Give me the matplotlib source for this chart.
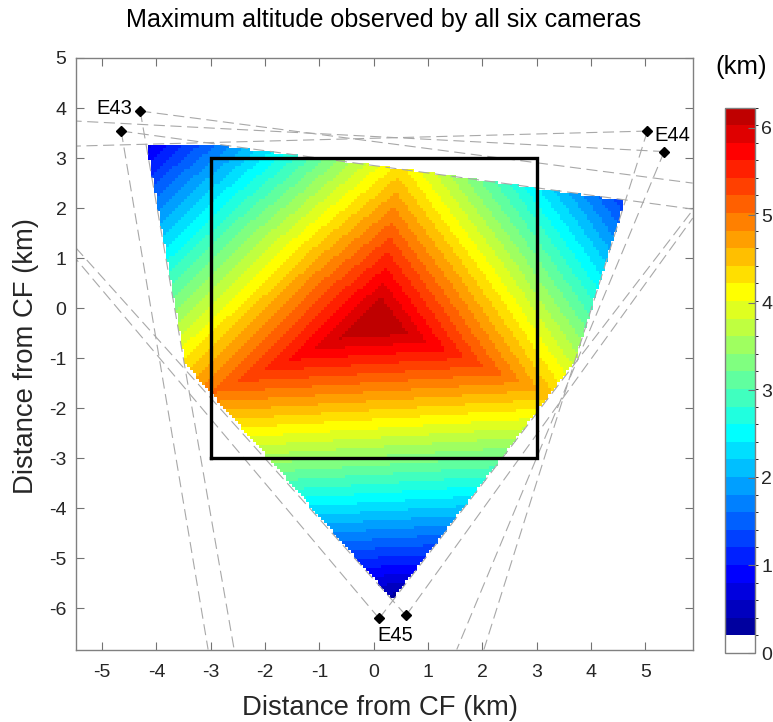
import numpy as np
import matplotlib
matplotlib.use('Agg')
import matplotlib.pyplot as plt
import matplotlib.tri as mtri
from matplotlib.colors import ListedColormap, BoundaryNorm

plt.rcParams['font.family'] = ['Liberation Sans', 'DejaVu Sans']
plt.rcParams['axes.unicode_minus'] = False

W, H = 773, 722

# altitude surface: ridge top + outline of the covered area
peak_x, peak_y, peak_z = 0.09, -0.26, 6.35
edge_x = [0.47, -3.05, -4.17, -3.47, -3.00, 0.35, 3.24, 3.71, 4.63]
edge_y = [2.80, 3.29, 3.25, -1.10, -1.69, -5.82, -1.73, -1.07, 2.15]
edge_z = [4.31, 1.50, 0.75, 4.28, 5.02, 0.27, 4.51, 3.75, 1.25]

# cameras
cam_x = [-4.30, -4.65, 5.04, 5.35, 0.10, 0.595]
cam_y = [3.94, 3.54, 3.54, 3.13, -6.20, -6.14]
cam_names = ['E43', 'E44', 'E45']
name_x = [-4.77, 5.50, 0.40]
name_y = [3.99, 3.46, -6.54]

# where each field-of-view line leaves the axes: (camera index, x, y)
fov_cam = [0, 0, 1, 1, 2, 2, 3, 3, 4, 4, 5, 5]
fov_x = [5.875, -2.57, 5.875, -3.05, -5.48, 2.03, -5.48, 1.53, 5.875, -5.48, 5.875, -5.48]
fov_y = [2.50, -6.82, 1.98, -6.82, 3.24, -6.82, 3.74, -6.82, 1.96, 0.98, 1.80, 1.20]

box_x = [-3, 3, 3, -3, -3]
box_y = [-3, -3, 3, 3, -3]

# matlab jet(32), last two colours dropped, white at the bottom
idx = np.arange(30)
r = np.interp(idx, [11, 19, 27, 31], [0, 1, 1, 0.5])
g = np.interp(idx, [3, 11, 19, 27], [0, 1, 1, 0])
b = np.interp(idx, [0, 3, 11, 19], [0.625, 1, 1, 0])
cmap = ListedColormap(np.vstack([[1, 1, 1], np.c_[r, g, b]]))
levels = np.linspace(0, 6.23, 32)
norm = BoundaryNorm(levels, 31, clip=True)

fig = plt.figure(figsize=(W / 100, H / 100), dpi=100)
ax = fig.add_axes([76.3 / W, 1 - 649.5 / H, 616.4 / W, 591.5 / H])

# fan of triangles around the peak
xs = np.array([peak_x] + edge_x)
ys = np.array([peak_y] + edge_y)
zs = np.array([peak_z] + edge_z)
n = len(edge_x)
tris = [[0, i + 1, (i + 1) % n + 1] for i in range(n)]
tri = mtri.Triangulation(xs, ys, tris)
gx, gy = np.meshgrid(np.arange(-4.4, 4.8, 0.055), np.arange(-6, 3.5, 0.06))
gz = mtri.LinearTriInterpolator(tri, zs)(gx, gy)
mesh = ax.pcolormesh(gx, gy, gz, cmap=cmap, norm=norm, shading='nearest')

for c, x, y in zip(fov_cam, fov_x, fov_y):
    ax.plot([cam_x[c], x], [cam_y[c], y], color='0.66', lw=0.8, dashes=(10, 5))

ax.plot(box_x, box_y, color='k', lw=2.4, solid_joinstyle='miter')
ax.plot(cam_x, cam_y, 'D', color='k', ms=4.6, ls='none')
for s, x, y in zip(cam_names, name_x, name_y):
    ax.text(x, y, s, fontsize=14.5, ha='center', va='center', color='k')

ax.set_xlim(-5.477, 5.875)
ax.set_ylim(-6.82, 5.0)
ax.set_xticks(range(-5, 6))
ax.set_yticks(range(-6, 6))
ax.tick_params(direction='in', length=6, width=0.8, top=True, right=True,
               color='0.45', labelcolor='0.15', labelsize=14)
ax.tick_params(axis='x', pad=10.5)
ax.tick_params(axis='y', pad=7)
for sp in ax.spines.values():
    sp.set_color('0.5')
    sp.set_linewidth(1.0)

ax.set_xlabel('Distance from CF (km)', fontsize=19.8, color='0.15')
ax.xaxis.set_label_coords((380.5 - 76.3) / 616.4, -0.077)
ax.set_ylabel('Distance from CF (km)', fontsize=19.8, color='0.15')
ax.yaxis.set_label_coords(-0.061, (649.5 - 356.5) / 591.5)
fig.text(384 / W, 1 - 20 / H, 'Maximum altitude observed by all six cameras',
         fontsize=18.1, ha='center', va='center', color='k')

cax = fig.add_axes([724.5 / W, 1 - 653 / H, 30 / W, 545.5 / H])
cb = fig.colorbar(mesh, cax=cax, ticks=range(7), spacing='proportional')
cb.ax.tick_params(direction='in', length=5, width=0.8, color='0.45',
                  labelcolor='0.15', labelsize=14, pad=5)
cb.outline.set_edgecolor('0.5')
cb.outline.set_linewidth(1.0)
fig.text(741 / W, 1 - 67 / H, '(km)', fontsize=18.5, ha='center', va='center', color='k')

fig.savefig('out.png', dpi=100)
